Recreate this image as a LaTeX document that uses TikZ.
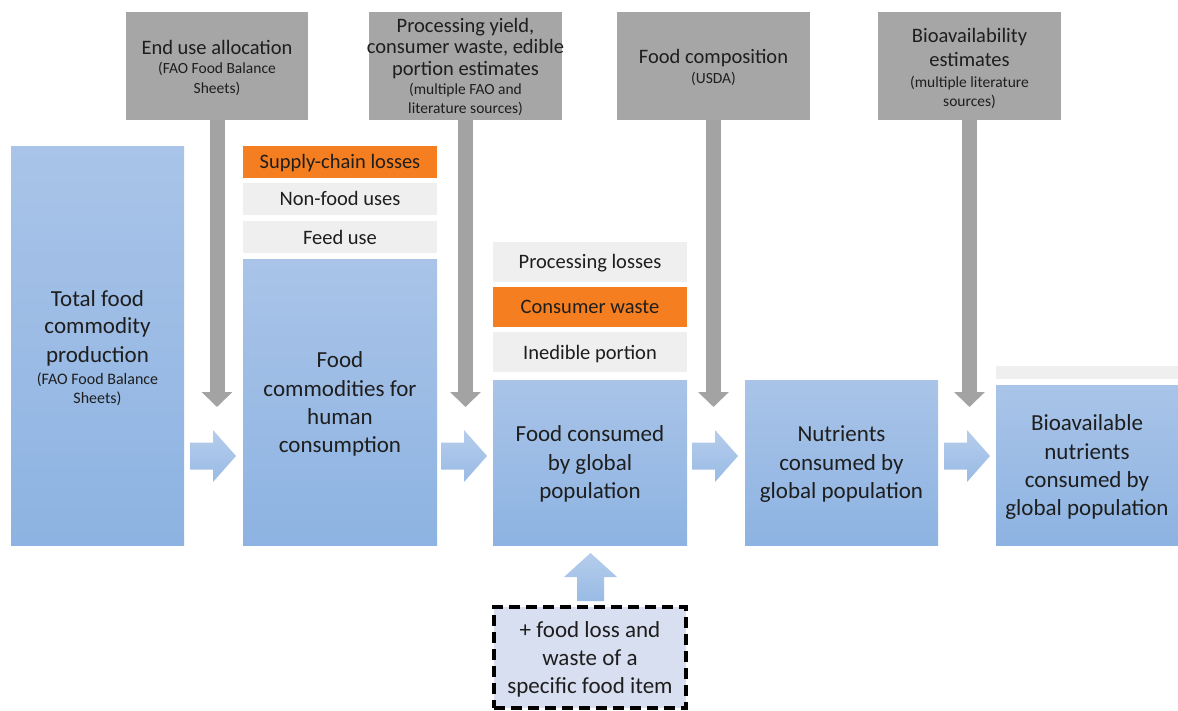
\documentclass[tikz,border=0pt]{standalone}
\usepackage{fontspec}
\setmainfont{Carlito}
\usetikzlibrary{arrows.meta,fit}
\definecolor{hdrgray}{HTML}{A6A6A6}
\definecolor{arrgray}{HTML}{A3A3A3}
\definecolor{lightg}{HTML}{EFEFEF}
\definecolor{orng}{HTML}{F47E20}
\definecolor{bluetop}{HTML}{A9C4E8}
\definecolor{bluebot}{HTML}{8DB3E2}
\definecolor{lav}{HTML}{D8DFF1}
\definecolor{ink}{HTML}{1E1E1E}
\begin{document}
\begin{tikzpicture}[x=1pt,y=-1pt,
  box/.style={inner sep=0pt, outer sep=0pt, draw=none},
  hdrbox/.style={box, fill=hdrgray},
  bluebox/.style={box, top color=bluetop, bottom color=bluebot},
  sidebox/.style={box, fill=lightg},
  orbox/.style={box, fill=orng},
  blueshade/.style={top color=bluetop!85!white, bottom color=bluebot!90!white},
  garrow/.style={draw=arrgray, line width=15pt, -{Triangle[length=15pt,width=30pt]}},
  txt/.style={anchor=base, inner sep=0pt, text=ink},
  big/.style={txt, font=\fontsize{23}{28}\selectfont},
  hdr/.style={txt, font=\fontsize{20.5}{25}\selectfont},
  small/.style={txt, font=\fontsize{15.5}{19}\selectfont},
  smallb/.style={txt, font=\fontsize{16}{19}\selectfont},
  dashbox/.style={inner sep=0pt, outer sep=0pt, fill=lav, draw=black, line width=3.5pt, dash pattern=on 11pt off 6pt}
]
\useasboundingbox (0,0) rectangle (1178,710);

% header boxes
\node[hdrbox, fit={(126,12) (308,120)}] (g1) {};
\node[hdrbox, fit={(369,12) (562,120)}] (g2) {};
\node[hdrbox, fit={(617,12) (810,120)}] (g3) {};
\node[hdrbox, fit={(878,12) (1061,120)}] (g4) {};

% blue boxes
\node[bluebox, fit={(11,146) (184,545)}] (b1) {};
\node[bluebox, fit={(243,259) (437,545)}] (b2) {};
\node[bluebox, fit={(493,380) (687,545)}] (b3) {};
\node[bluebox, fit={(745,380) (938,545)}] (b4) {};
\node[bluebox, fit={(996,385) (1178,545)}] (b5) {};

% side boxes
\node[orbox, fit={(243,146) (437,178)}] (s1) {};
\node[sidebox, fit={(243,183) (437,215)}] (s2) {};
\node[sidebox, fit={(243,221) (437,253)}] (s3) {};
\node[sidebox, fit={(493,242) (687,282)}] (p1) {};
\node[orbox, fit={(493,287) (687,327)}] (p2) {};
\node[sidebox, fit={(493,332) (687,372)}] (p3) {};
\node[sidebox, fit={(996,366) (1178,379)}] (bar5) {};

% dashed box
\node[dashbox, fit={(494,607) (686,708)}] (db) {};

% gray arrows
\coordinate (g1tip) at (217,407);
\coordinate (g2tip) at (465.5,407);
\coordinate (g3tip) at (713.5,407);
\coordinate (g4tip) at (969.5,407);
\draw[garrow] (g1.south) -- (g1tip);
\draw[garrow] (g2.south) -- (g2tip);
\draw[garrow] (g3.south) -- (g3tip);
\draw[garrow] (g4.south) -- (g4tip);

% blue block arrows
\newcommand\rarrow[1]{\shade[blueshade] (#1,442.5) -- ++(23,0) -- ++(0,-12.5) -- ++(23,26) -- ++(-23,26) -- ++(0,-12.5) -- ++(-23,0) -- cycle;}
\rarrow{190}
\rarrow{441}
\rarrow{692}
\rarrow{944}
\shade[blueshade] (577,601) -- (577,577) -- (564,577) -- (590.5,553) -- (617,577) -- (604,577) -- (604,601) -- cycle;

% header texts
\node[hdr] (g1a) at (217,54.3) {End use allocation};
\node[small] (g1b) at (217,73.3) {(FAO Food Balance};
\node[small] (g1c) at (217,93) {Sheets)};

\node[hdr] (g2a) at (465.5,32.3) {Processing yield,};
\node[hdr] (g2b) at (465.5,53.3) {consumer waste, edible};
\node[hdr] (g2c) at (465.5,75) {portion estimates};
\node[small] (g2d) at (465.5,94.3) {(multiple FAO and};
\node[small] (g2e) at (465.5,113.3) {literature sources)};

\node[hdr] (g3a) at (713.5,63.3) {Food composition};
\node[small] (g3b) at (713.5,83.3) {(USDA)};

\node[hdr] (g4a) at (969.5,42.3) {Bioavailability};
\node[hdr] (g4b) at (969.5,66.7) {estimates};
\node[small] (g4c) at (969.5,87.3) {(multiple literature};
\node[small] (g4d) at (969.5,106.7) {sources)};

% side texts
\node[hdr] (s1t) at (340,168) {Supply-chain losses};
\node[hdr] (s2t) at (340,205.7) {Non-food uses};
\node[hdr] (s3t) at (340,244.3) {Feed use};
\node[hdr] (p1t) at (590,268.7) {Processing losses};
\node[hdr] (p2t) at (590,313.3) {Consumer waste};
\node[hdr] (p3t) at (590,359) {Inedible portion};

% blue box texts
\node[big] (b1a) at (97.5,306) {Total food};
\node[big] (b1b) at (97.5,333.5) {commodity};
\node[big] (b1c) at (97.5,362) {production};
\node[smallb] (b1d) at (97.5,384) {(FAO Food Balance};
\node[smallb] (b1e) at (97.5,403.3) {Sheets)};

\node[big] (b2a) at (340,367.3) {Food};
\node[big] (b2b) at (340,396) {commodities for};
\node[big] (b2c) at (340,424) {human};
\node[big] (b2d) at (340,452.3) {consumption};

\node[big] (b3a) at (590,441.7) {Food consumed};
\node[big] (b3b) at (590,470) {by global};
\node[big] (b3c) at (590,498.3) {population};

\node[big] (b4a) at (841.5,441.7) {Nutrients};
\node[big] (b4b) at (841.5,470) {consumed by};
\node[big] (b4c) at (841.5,498.3) {global population};

\node[big] (b5a) at (1087,430.7) {Bioavailable};
\node[big] (b5b) at (1087,459) {nutrients};
\node[big] (b5c) at (1087,487.3) {consumed by};
\node[big] (b5d) at (1087,515.7) {global population};

\node[big] (d1) at (590,637.3) {+ food loss and};
\node[big] (d2) at (590,665.7) {waste of a};
\node[big] (d3) at (590,693.3) {specific food item};
\end{tikzpicture}
\end{document}
